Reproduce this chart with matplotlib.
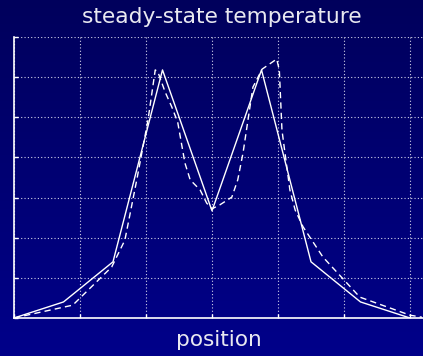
import numpy as np
import matplotlib
matplotlib.use("Agg")
import matplotlib.pyplot as plt
from matplotlib.colors import LinearSegmentedColormap

# solid curve (coarse mesh)
x_coarse = [0, 0.75, 1.5, 2.25, 3.0, 3.75, 4.5, 5.25, 6.0]
t_coarse = [0, 0.40, 1.40, 6.18, 2.67, 6.18, 1.40, 0.40, 0]

# dashed curve (fine mesh)
x_fine = [0, 0.89, 1.48, 1.68, 1.86, 2.03, 2.14, 2.18, 2.29, 2.39, 2.48, 2.59,
          2.67, 2.82, 2.92, 3.0, 3.12, 3.30, 3.39, 3.47, 3.62, 3.76, 3.98,
          4.02, 4.06, 4.18, 4.26, 4.38, 4.68, 5.24, 6.0, 6.18]
t_fine = [0, 0.32, 1.27, 1.94, 3.44, 4.93, 6.18, 6.13, 5.63, 5.26, 4.88, 3.86,
          3.44, 3.19, 2.86, 2.72, 2.82, 3.01, 3.44, 4.11, 5.75, 6.20, 6.45,
          6.18, 4.68, 3.19, 2.69, 2.27, 1.52, 0.52, 0.07, 0.02]

fig = plt.figure(figsize=(4.23, 3.56), dpi=100)

# background gradient
bg = fig.add_axes([0, 0, 1, 1], zorder=-1)
cmap = LinearSegmentedColormap.from_list("navy", ["#00005c", "#00008a"])
bg.imshow(np.linspace(0, 1, 256).reshape(-1, 1), aspect="auto", cmap=cmap,
          extent=[0, 1, 0, 1], origin="upper")
bg.axis("off")

ax = fig.add_axes([14 / 423, 38 / 356, 409 / 423, 281 / 356])
ax.set_facecolor("none")

ax.plot(x_coarse, t_coarse, color="white", lw=1.0)
ax.plot(x_fine, t_fine, color="white", lw=1.0, linestyle=(0, (4.5, 3)))

ax.set_xlim(0, 409 / 66)
ax.set_ylim(0, 7)
ax.set_xticks(range(0, 7))
ax.set_yticks(range(0, 8))
ax.tick_params(direction="in", length=3, color="white", width=1,
               labelleft=False, labelbottom=False)
ax.grid(True, color="#d0d0e8", linestyle=(0, (1, 2)), lw=0.8)

for side in ["top", "right"]:
    ax.spines[side].set_visible(False)
for side in ["left", "bottom"]:
    ax.spines[side].set_color("white")
    ax.spines[side].set_linewidth(1.2)

fig.text(222 / 423, 1 - 17 / 356, "steady-state temperature", color="#e8e8f0",
         fontsize=15.7, ha="center", va="center")
fig.text(219 / 423, 1 - 340 / 356, "position", color="#e8e8f0",
         fontsize=15.6, ha="center", va="center")

fig.savefig("out.png", dpi=100)
